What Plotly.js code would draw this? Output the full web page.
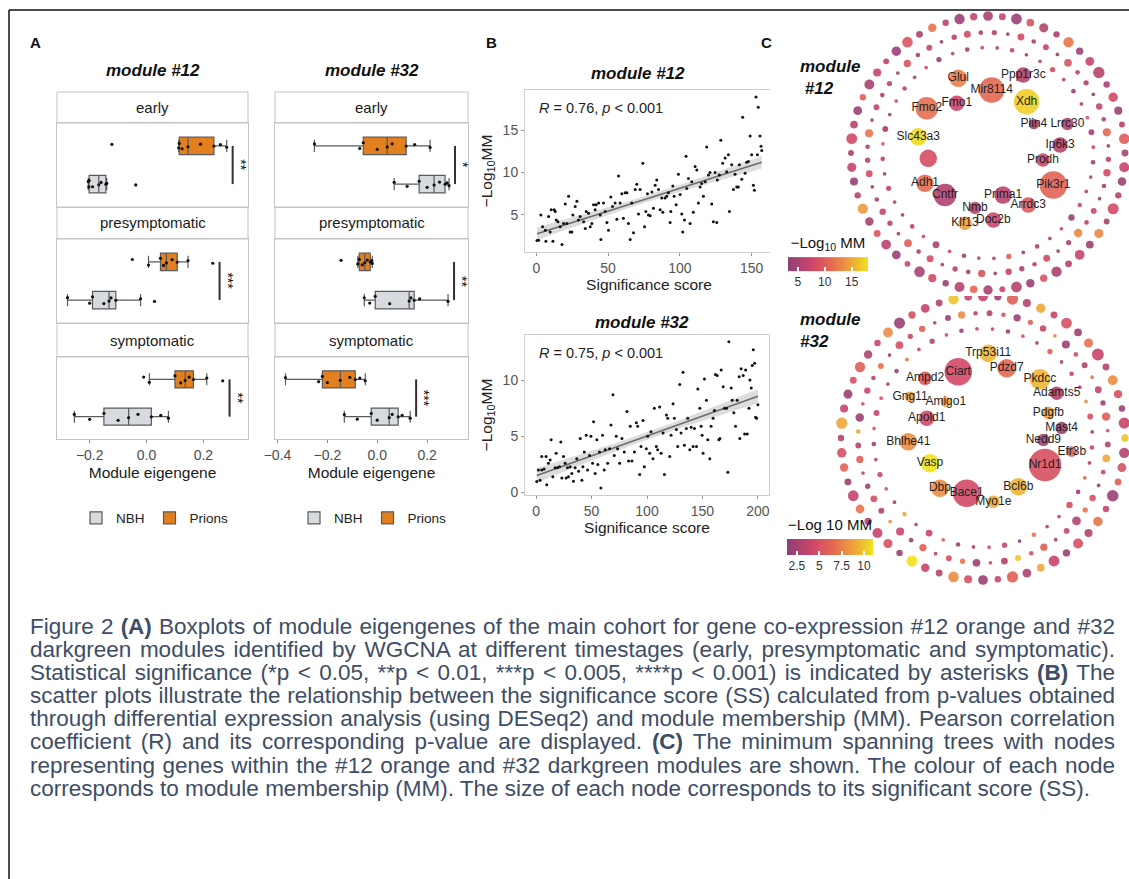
<!DOCTYPE html>
<html><head><meta charset="utf-8">
<script src="https://cdn.plot.ly/plotly-3.0.1.min.js"></script>
<style>
html,body{margin:0;padding:0;background:#fff;}
#chart{position:absolute;left:0;top:0;width:1129px;height:879px;}
#caption{position:absolute;left:30px;top:615px;width:1085px;font-family:'Liberation Sans',Arial,sans-serif;font-size:22.5px;line-height:23.1px;color:#3e4d66;}
#caption .ln{white-space:nowrap;height:23.1px;}
#caption b{color:#3e4d66;}
</style></head><body>
<div id="chart"></div>
<div id="caption"></div>
<script>
// ================= DATA =================
// Panel A: module eigengene samples
const stages = ['early','presymptomatic','symptomatic'];
const groupNames = ['NBH','Prions'];
const m12_early_NBH = [-0.205,-0.203,-0.202,-0.19,-0.168,-0.16,-0.143,-0.14,-0.038];
const m12_early_Prions = [-0.122,0.113,0.115,0.125,0.146,0.19,0.237,0.26,0.282];
const m12_presym_NBH = [-0.278,-0.2,-0.19,-0.15,-0.132,-0.125,-0.108,-0.021,0.028];
const m12_presym_Prions = [-0.05,0.007,0.049,0.06,0.07,0.09,0.108,0.146,0.233];
const m12_sym_NBH = [-0.254,-0.2,-0.15,-0.1,-0.063,-0.03,0.017,0.05,0.077];
const m12_sym_Prions = [-0.01,0.01,0.1,0.12,0.136,0.15,0.165,0.212,0.268];
const m32_early_NBH = [0.068,0.12,0.168,0.2,0.228,0.25,0.272,0.28,0.288];
const m32_early_Prions = [-0.252,-0.07,-0.056,0.0,0.04,0.06,0.116,0.15,0.212];
const m32_presym_NBH = [-0.052,-0.03,-0.008,0.05,0.128,0.135,0.148,0.17,0.284];
const m32_presym_Prions = [-0.145,-0.078,-0.072,-0.06,-0.05,-0.04,-0.028,-0.022,-0.02];
const m32_sym_NBH = [-0.132,-0.08,-0.024,0.0,0.048,0.06,0.084,0.1,0.132];
const m32_sym_Prions = [-0.368,-0.235,-0.22,-0.2,-0.148,-0.11,-0.088,-0.07,-0.048];
const sig12 = ['**','***','**'];
const sig32 = ['*','**','***'];
const sigPos12 = [0.303,0.257,0.292];
const sigPos32 = [0.312,0.308,0.156];
const ticks12 = [-0.2,0,0.2];
const ticks32 = [-0.4,-0.2,0,0.2];

// Panel B: significance score vs -log10 MM
const ss12 = [0.5,1.6,3.2,4.4,6.3,6.7,8.6,9.7,10.4,11.6,12.5,13.2,13.9,15.1,16.7,17.9,19,20.2,21.3,22.5,23.6,24.8,25.5,27.1,28.3,29.4,30.6,33,34.1,34.8,36.4,37.6,38.7,39.9,41,41.7,43.4,45,44.5,46.8,48,49.2,50.3,51.9,53.1,54.9,56.1,57.3,58.4,59.6,60.7,61.9,63.1,64.2,65.4,66.5,67.7,68.9,70,71.2,72.3,74.2,75.4,76.3,77.4,78.1,79.3,80.5,81.6,82.8,83.9,85.1,86.3,87.4,88.1,89.7,90.9,92,93.2,93.7,95.1,96,97.4,99,100.2,101.3,102,103.2,104.3,104.8,106,107.1,108.3,109.4,110.6,111.8,112.9,114.1,115.2,116.4,117.6,118.7,119.9,121,122.2,123.3,124.5,125.7,126.1,127.5,128.5,129.8,131.5,132.6,133.8,134.5,136.1,137.3,138.4,139.6,140.7,141.4,143.1,143.7,145.4,146.5,147.7,148.9,150,151.2,151.9,153,154,154.6,155.8,156.5,157];
const mm12 = [1.98,2.0,5.0,3.6,3.2,1.9,4.8,3.0,5.6,1.9,5.6,5.4,4.4,4.2,3.6,1.5,4.0,6.3,4.0,7.2,3.0,3.0,5.0,6.0,6.6,4.4,4.8,4.2,3.4,5.4,5.2,3.6,4.0,6.2,5.6,6.2,6.4,2.1,5.0,6.4,5.4,4.1,3.2,7.1,6.0,6.4,4.5,9.6,6.4,7.5,4.6,7.6,7.6,4.0,2.1,6.4,2.9,8.0,8.6,5.1,8.0,11.1,3.6,5.4,7.5,5.0,4.9,7.7,5.8,8.5,9.1,8.0,5.6,7.0,5.3,7.0,7.2,7.6,4.1,5.4,8.4,7.2,6.2,9.8,7.4,5.1,3.0,4.4,11.9,8.1,9.3,4.0,8.9,5.3,10.7,10.3,6.4,8.3,8.7,7.2,8.9,13.0,9.7,10.0,6.3,4.2,10.0,4.1,9.1,9.7,13.8,11.1,11.7,10.1,12.1,5.4,10.9,8.0,9.8,8.3,8.3,10.9,9.2,16.5,9.9,11.2,11.3,14.3,12.1,8.5,7.9,18.9,12.1,17.7,14.3,13.1,12.6];
const ss32 = [0.6,2.1,3.6,5.1,5.1,7.2,9,9.6,11.1,12.7,13.6,15.1,17.2,18.1,19.3,21.1,22.3,23.2,24.7,26.2,27.1,28.3,29.2,30.7,32.2,33.7,35.2,36.7,38.3,39.8,41.3,42.2,43.4,45.2,46.4,48.2,49.4,50.9,51.8,53.3,54.8,55.7,57.2,58.4,59.9,61.4,62.3,64.5,66.3,67.5,69.3,70.5,72.3,73.5,75.3,77.4,79.5,81.9,83.4,84.9,86.4,88.6,90.4,91.6,93.4,94.6,96.4,97.6,99.4,100.6,102.4,103.6,105.4,106.6,108.4,109.6,111.4,112.7,114.5,115.7,117.5,118.7,120.5,121.7,123.5,124.7,126.5,127.7,129.5,130.7,132.5,133.7,135.5,136.7,138.6,139.8,141.6,142.8,144.6,145.8,147.6,148.8,149.7,150.6,151.8,153.6,154.8,156.6,157.8,159.6,160.8,161.7,163.3,164.8,165.7,166.9,168.7,169.9,171.7,172.9,173.8,175.9,176.8,178.3,179.8,181.3,183.1,183.7,184.9,186.7,188,188.9,190.4,191.9,192.8,194,194.9,195.8,197,197.9,198.8,200];
const mm32 = [0.98,2.0,1.1,2.0,3.2,2.1,3.2,0.7,2.6,2.9,4.7,1.4,2.2,3.5,2.2,2.3,4.5,1.3,3.2,2.6,1.3,2.2,1.4,2.3,1.7,1.0,2.2,3.0,1.9,4.8,1.1,2.3,3.6,5.1,2.0,3.3,5.0,2.6,6.3,1.7,4.7,2.5,3.6,0.4,5.1,2.0,3.8,2.6,3.9,6.0,8.7,3.3,5.0,3.9,2.6,4.8,3.6,7.2,2.8,5.9,2.8,3.6,6.2,5.9,1.6,4.1,6.4,2.3,3.9,5.0,3.5,5.4,3.0,7.5,4.1,3.8,7.6,3.5,5.3,1.6,6.9,6.6,3.2,5.1,7.9,6.6,5.6,4.1,9.6,5.3,10.7,4.2,5.7,6.6,3.8,5.8,4.1,5.7,4.1,9.2,7.5,5.9,5.1,3.5,10.1,8.2,4.7,3.0,5.9,6.6,7.3,10.5,10.4,4.7,4.8,10.9,9.4,7.5,7.5,1.8,13.4,9.3,8.2,7.1,5.9,8.2,10.3,4.8,11.0,10.4,5.2,10.9,5.2,7.5,10.0,9.3,11.3,12.7,11.5,6.7,6.6,7.8];

// Panel C: network hubs (layout coordinates, MM colour, SS size)
const hub12Names = ['Glul','Mir8114','Ppp1r3c','Fmo1','Xdh','Fmo2','Slc43a3','Plin4','Lrrc30','Ip6k3','Prodh','','Adh1','Pik3r1','Cntfr','Nmb','Prima1','Arrdc3','Klf13','Doc2b'];
const hub12X = [-0.217,0.027,0.258,-0.228,0.282,-0.447,-0.509,0.335,0.58,0.526,0.401,-0.436,-0.46,0.477,-0.314,-0.095,0.11,0.294,-0.168,0.039];
const hub12Y = [0.545,0.46,0.569,0.363,0.374,0.326,0.119,0.212,0.212,0.058,-0.051,-0.039,-0.221,-0.234,-0.307,-0.401,-0.307,-0.380,-0.513,-0.489];
const hub12MM = [12.5,11,5.5,7.5,17,11.5,17.5,5,5.5,6,7,8.5,11.5,10.5,5.5,6.5,6,9.5,14.5,7.5];
const hub12SS = [53,119,40,40,119,91,53,17,25,40,30,53,53,140,91,25,53,40,30,40];
const hub32Names = ['Trp53i11','Ciart','Pdzd7','Pkdcc','Ampd2','Gng11','Amigo1','Adamts5','Apold1','Pdgfb','Mast4','Nedd9','Bhlhe41','Efr3b','Vasp','Nr1d1','Bcl6b','Dbp','Bace1','Myo1e'];
const hub32X = [0.037,-0.174,0.167,0.401,-0.408,-0.514,-0.262,0.519,-0.396,0.46,0.554,0.425,-0.526,0.625,-0.373,0.437,0.249,-0.303,-0.115,0.073];
const hub32Y = [0.596,0.467,0.491,0.413,0.420,0.290,0.255,0.315,0.139,0.176,0.07,-0.014,-0.026,-0.096,-0.178,-0.19,-0.343,-0.354,-0.389,-0.449];
const hub32MM = [9.5,4.5,6.5,9.5,5.5,8.5,9,3,4.5,8.5,2,2.5,8,6,11,5,9.5,8,4.5,9];
const hub32SS = [53,140,60,75,30,17,17,30,40,25,25,25,53,17,60,198,53,53,140,25];
// peripheral nodes (three rings per module)
const o12mm = [5,7,4,9,6,5,12,4,7,6,5,8,4,6,10,5,7,4,6,8,5,13,4,7,6,5,9,4,6,7,5,11,6,4,8,5,7,4,6,9,5,14,6,4,7,5,8,6,4,10,5,7,6,4,9,5,12,6,4,7];
const o12ss = [14,6,18,8,12,5,16,7,11,20,5,13,9,4,17,6,15,10,5,19,4,12,8,14,6,16,7,10,18,4,13,8,15,5,9,17,4,11,14,6,10,16,5,9,12,4,18,8,11,5,15,9,4,13,17,6,10,5,16,7];
const m12mm = [6,4,8,5,7,4,9,6,5,3.5,7,5,11,4,6,8,5,4,7,6,13,5,4,8,6,5,7,4,9,5,6,4,8,5,10,4,6,7,5,4,8,6,5,12,4,7,5,6,4,9,5,7,4,6,8,5];
const m12ss = [3,1,6,2,4,1,8,2,3,1,5,2,9,1,3,7,2,1,4,2,10,3,1,6,2,3,5,1,7,2,3,1,6,2,8,1,3,5,2,1,6,3,2,9,1,4,2,3,1,7,2,4,1,3,6,2];
const i12mm = [5,7,4,6,8,5,4,6,9,5,7,4,6,5,8,4,7,5,6,4,10,5,6,4,7,5,8,6,4,5,7,4,6,9,5,4,7,6,5,8,4,6,5,7];
const i12ss = [1,2,1,1,3,1,2,1,1,4,1,2,1,1,2,5,1,1,2,1,3,1,1,2,1,6,1,2,1,1,3,1,2,1,4,1,1,2,1,1,3,1,2,1];
const o32mm = [4,2,6,3,9,4,5,2,7,4,3,8,5,2,4,10,3,5,6,2,4,7,3,5,2,4,9,3,6,4,2,5,8,3,4,11,2,5,4,3,7,4,2,6,5,3,9,4,2,5,6,3,4,8,2,5,4,3,10,4];
const o32ss = [16,7,20,9,13,6,18,8,12,22,6,14,10,5,19,7,16,11,6,21,5,13,9,15,7,18,8,11,20,5,14,9,17,6,10,19,5,12,15,7,11,18,6,10,13,5,20,9,12,6,16,10,5,14,19,7,11,6,17,8];
const m32mm = [3,5,2,6,4,8,2,5,3,7,4,2,6,5,3,9,4,2,5,7,3,4,2,6,5,10,3,4,2,7,5,3,6,2,4,8,3,5,2,4,6,3,9,2,5,4,3,7,2,5,4,6,3,2,8,4];
const m32ss = [4,2,7,3,5,1,9,2,4,1,6,3,10,1,4,8,2,1,5,3,11,4,1,7,2,4,6,1,8,3,4,1,7,2,9,1,4,6,3,1,7,4,2,10,1,5,2,4,1,8,3,5,1,4,7,2];
const i32mm = [4,2,5,3,6,2,4,3,8,5,2,4,3,6,2,5,4,3,7,2,4,5,3,2,6,4,3,9,2,5,4,3,2,6,4,5,3,2,7,4,3,5,2,4];
const i32ss = [1,2,1,1,3,1,2,1,1,4,1,2,1,1,2,5,1,1,2,1,3,1,1,2,1,6,1,2,1,1,3,1,2,1,4,1,1,2,1,1,3,1,2,1];

const captionLines = [
 'Figure 2 <b>(A)</b> Boxplots of module eigengenes of the main cohort for gene co-expression #12 orange and #32',
 'darkgreen modules identified by WGCNA at different timestages (early, presymptomatic and symptomatic).',
 'Statistical significance (*p &lt; 0.05, **p &lt; 0.01, ***p &lt; 0.005, ****p &lt; 0.001) is indicated by asterisks <b>(B)</b> The',
 'scatter plots illustrate the relationship between the significance score (SS) calculated from p-values obtained',
 'through differential expression analysis (using DESeq2) and module membership (MM). Pearson correlation',
 'coefficient (R) and its corresponding p-value are displayed. <b>(C)</b> The minimum spanning trees with nodes',
 'representing genes within the #12 orange and #32 darkgreen modules are shown. The colour of each node',
 'corresponds to module membership (MM). The size of each node corresponds to its significant score (SS).'
];

// ================= BUILD =================
const W=1129,H=879;
const FONT='Liberation Sans, Arial, Helvetica, sans-serif';
const fx=p=>p/W, fy=p=>1-p/H;
const domX=(a,b)=>[a/W,b/W];
const domY=(t,b)=>[1-b/H,1-t/H];
const sfx=k=>k===1?'':String(k);
const traces=[], shapes=[], annotations=[];
const ann=o=>annotations.push(Object.assign({xref:'paper',yref:'paper',xanchor:'center',yanchor:'middle',showarrow:false},o));
const layout={width:W,height:H,margin:{l:0,r:0,t:0,b:0},paper_bgcolor:'#ffffff',plot_bgcolor:'#ffffff',
  font:{family:FONT,color:'#222'},showlegend:true,shapes,annotations,hovermode:'closest'};

// ---- Panel A ----
const rowsPx=[[123,207],[239,323],[357,439]];
const stripPx=[[92,123],[207,239],[323,357]];
const boxCols=[
 {mod:'#12',px:[57,248],range:[-0.315,0.357],tv:ticks12,sig:sig12,sigPos:sigPos12,legend:'legend',
  data:[[m12_early_NBH,m12_early_Prions],[m12_presym_NBH,m12_presym_Prions],[m12_sym_NBH,m12_sym_Prions]]},
 {mod:'#32',px:[275,468],range:[-0.41,0.364],tv:ticks32,sig:sig32,sigPos:sigPos32,legend:'legend2',
  data:[[m32_early_NBH,m32_early_Prions],[m32_presym_NBH,m32_presym_Prions],[m32_sym_NBH,m32_sym_Prions]]}
];
const boxFill=['#d7dbdf','#e2801f'];
boxCols.forEach((c,ci)=>{
  ann({x:fx((c.px[0]+c.px[1])/2),y:fy(70),text:'<b><i>module '+c.mod+'</i></b>',font:{size:17,color:'#111'}});
  for(let r=0;r<3;r++){
    const k=ci*3+r+1, s=sfx(k);
    layout['xaxis'+s]={domain:domX(c.px[0],c.px[1]),anchor:'y'+s,range:c.range,tickvals:c.tv,tickformat:'.1f',
      showticklabels:r===2,ticks:r===2?'outside':'',ticklen:3,tickcolor:'#888',tickfont:{size:14,color:'#4d4d4d'},
      showline:true,mirror:true,linecolor:'#c4c4c4',linewidth:1,showgrid:false,zeroline:false,fixedrange:true};
    if(r===2) layout['xaxis'+s].title={text:'Module eigengene',font:{size:15.5,color:'#1a1a1a'},standoff:5};
    layout['yaxis'+s]={domain:domY(rowsPx[r][0],rowsPx[r][1]),anchor:'x'+s,type:'category',categoryorder:'array',
      categoryarray:groupNames,range:[-0.6,1.6],showticklabels:false,ticks:'',showline:true,mirror:true,
      linecolor:'#c4c4c4',linewidth:1,showgrid:false,zeroline:false,fixedrange:true};
    shapes.push({type:'rect',xref:'paper',yref:'paper',x0:fx(c.px[0]),x1:fx(c.px[1]),y0:fy(stripPx[r][1]),y1:fy(stripPx[r][0]),
      line:{color:'#c4c4c4',width:1},fillcolor:'#ffffff',layer:'below'});
    ann({x:fx((c.px[0]+c.px[1])/2),y:fy((stripPx[r][0]+stripPx[r][1])/2),text:stages[r],font:{size:15,color:'#1a1a1a'}});
    for(let g=0;g<2;g++){
      const vals=c.data[r][g];
      traces.push({type:'box',orientation:'h',name:groupNames[g],x:vals,y:vals.map(()=>groupNames[g]),
        xaxis:'x'+s,yaxis:'y'+s,fillcolor:boxFill[g],line:{color:'#5a5a5a',width:1.2},whiskerwidth:0.7,width:0.46,
        boxpoints:'all',jitter:0.55,pointpos:0,quartilemethod:'inclusive',marker:{color:'#111',size:3.2},
        legend:c.legend,legendgroup:c.mod+groupNames[g],showlegend:r===0,hoverinfo:'x'});
    }
    shapes.push({type:'line',xref:'x'+s,yref:'y'+s,x0:c.sigPos[r],x1:c.sigPos[r],y0:0,y1:1,
      line:{color:'#3a2a33',width:2}});
    annotations.push({xref:'x'+s,yref:'y'+s,x:c.sigPos[r],y:0.5,xshift:8,xanchor:'center',yanchor:'middle',
      text:c.sig[r],textangle:90,showarrow:false,font:{size:14,color:'#111'}});
  }
});
const legendBase={xanchor:'left',yanchor:'middle',orientation:'h',font:{size:13.5,color:'#222'},itemwidth:30,
  bgcolor:'rgba(0,0,0,0)',tracegroupgap:0};
layout.legend=Object.assign({x:fx(76),y:fy(518)},legendBase);
layout.legend2=Object.assign({x:fx(294),y:fy(518)},legendBase);

// ---- Panel B ----
function fitBand(xs,ys){
  const n=xs.length, mx=xs.reduce((a,b)=>a+b,0)/n, my=ys.reduce((a,b)=>a+b,0)/n;
  let sxx=0,sxy=0; for(let i=0;i<n;i++){sxx+=(xs[i]-mx)**2;sxy+=(xs[i]-mx)*(ys[i]-my);}
  const b=sxy/sxx,a=my-b*mx; let sse=0; for(let i=0;i<n;i++){sse+=(ys[i]-a-b*xs[i])**2;}
  const s=Math.sqrt(sse/(n-2)); const lo=Math.min(...xs), hi=Math.max(...xs);
  const gx=[],gy=[],up=[],dn=[];
  for(let j=0;j<=40;j++){const x=lo+(hi-lo)*j/40; const y=a+b*x; const se=s*Math.sqrt(1/n+(x-mx)**2/sxx);
    gx.push(x);gy.push(y);up.push(y+1.97*se);dn.push(y-1.97*se);}
  return {gx,gy,up,dn};
}
const scat=[
 {k:7,x:ss12,y:mm12,px:[525,773],py:[90,252],xr:[-7.85,164.85],yr:[0.63,19.72],xt:[0,50,100,150],yt:[5,10,15],
  title:'#12',titleY:73,titleX:638,R:'0.76',Ry:108},
 {k:8,x:ss32,y:mm32,px:[525,769],py:[335,495],xr:[-10,210],yr:[-0.22,14.0],xt:[0,50,100,150,200],yt:[0,5,10],
  title:'#32',titleY:322,titleX:642,R:'0.75',Ry:353}
];
scat.forEach(p=>{
  const s=sfx(p.k);
  const common={showline:true,mirror:true,linecolor:'#cfcfcf',linewidth:1,ticks:'outside',ticklen:3,tickcolor:'#999',
    tickfont:{size:14,color:'#555'},showgrid:false,zeroline:false,fixedrange:true};
  layout['xaxis'+s]=Object.assign({domain:domX(p.px[0],p.px[1]),anchor:'y'+s,range:p.xr,tickvals:p.xt,
    title:{text:'Significance score',font:{size:15.5,color:'#222'},standoff:3}},common);
  layout['yaxis'+s]=Object.assign({domain:domY(p.py[0],p.py[1]),anchor:'x'+s,range:p.yr,tickvals:p.yt,
    title:{text:'\u2212Log<sub>10</sub>MM',font:{size:15.5,color:'#222'},standoff:6}},common);
  const f=fitBand(p.x,p.y);
  traces.push({type:'scatter',mode:'lines',x:f.gx.concat(f.gx.slice().reverse()),y:f.up.concat(f.dn.slice().reverse()),
    fill:'toself',fillcolor:'rgba(165,165,165,0.38)',line:{width:0},xaxis:'x'+s,yaxis:'y'+s,showlegend:false,hoverinfo:'skip'});
  traces.push({type:'scatter',mode:'lines',x:f.gx,y:f.gy,line:{color:'#6c6c6c',width:1.6},xaxis:'x'+s,yaxis:'y'+s,
    showlegend:false,hoverinfo:'skip'});
  traces.push({type:'scatter',mode:'markers',x:p.x,y:p.y,marker:{color:'#111',size:3},xaxis:'x'+s,yaxis:'y'+s,
    showlegend:false});
  ann({x:fx(p.titleX),y:fy(p.titleY),text:'<b><i>module '+p.title+'</i></b>',font:{size:17,color:'#111'}});
  ann({x:fx(537),y:fy(p.Ry),xanchor:'left',text:'<i>R</i> = '+p.R+', <i>p</i> &lt; 0.001',font:{size:14.5,color:'#222'}});
});

// ---- Panel C ----
const CS=[[0,'#8e3f77'],[0.3,'#cf4669'],[0.55,'#e66b50'],[0.8,'#eea93a'],[1,'#efe21d']];
const ringR=[1.0,0.88,0.77];
const ringOff=[0,3,5];
const sizeOf=v=>2.2*Math.sqrt(v)+1.5;
const nets=[
 {k:9,ca:'coloraxis',px:[770,1129],py:[10,296],cx:988,cy:153,R:137,names:hub12Names,hx:hub12X,hy:hub12Y,hm:hub12MM,hs:hub12SS,
  rings:[[o12mm,o12ss],[m12mm,m12ss],[i12mm,i12ss]],label:'<b><i>module<br>&nbsp;#12</i></b>',ly:78},
 {k:10,ca:'coloraxis2',px:[770,1129],py:[296,586],cx:983,cy:438,R:142,names:hub32Names,hx:hub32X,hy:hub32Y,hm:hub32MM,hs:hub32SS,
  rings:[[o32mm,o32ss],[m32mm,m32ss],[i32mm,i32ss]],label:'<b><i>module<br>#32</i></b>',ly:330}
];
nets.forEach(nw=>{
  const s=sfx(nw.k);
  layout['xaxis'+s]={domain:domX(nw.px[0],nw.px[1]),anchor:'y'+s,range:[(nw.px[0]-nw.cx)/nw.R,(nw.px[1]-nw.cx)/nw.R],
    visible:false,fixedrange:true};
  layout['yaxis'+s]={domain:domY(nw.py[0],nw.py[1]),anchor:'x'+s,range:[(nw.cy-nw.py[1])/nw.R,(nw.cy-nw.py[0])/nw.R],
    visible:false,fixedrange:true};
  nw.rings.forEach((rg,ri)=>{
    const n=rg[0].length, xs=[], ys=[];
    for(let i=0;i<n;i++){const t=(90-ringOff[ri]-360*i/n)*Math.PI/180; xs.push(ringR[ri]*Math.cos(t)); ys.push(ringR[ri]*Math.sin(t));}
    traces.push({type:'scatter',mode:'markers',x:xs,y:ys,xaxis:'x'+s,yaxis:'y'+s,showlegend:false,
      marker:{color:rg[0],coloraxis:nw.ca,size:rg[1].map(sizeOf),opacity:0.9,line:{width:0}},hoverinfo:'skip'});
  });
  traces.push({type:'scatter',mode:'markers+text',x:nw.hx,y:nw.hy,text:nw.names,textposition:'middle center',
    textfont:{size:12,color:'#1f1f1f'},xaxis:'x'+s,yaxis:'y'+s,showlegend:false,
    marker:{color:nw.hm,coloraxis:nw.ca,size:nw.hs.map(sizeOf),opacity:0.9,line:{width:0}}});
  ann({x:fx(798),y:fy(nw.ly),xanchor:'left',align:'left',text:nw.label,font:{size:17,color:'#111'}});
});
const cbBase={orientation:'h',xanchor:'center',yanchor:'top',lenmode:'pixels',thicknessmode:'pixels',
  xpad:0,ypad:0,outlinewidth:0,ticks:'inside',ticklen:4,tickcolor:'#ffffff',tickwidth:2,tickfont:{size:12,color:'#333'}};
layout.coloraxis={colorscale:CS,cmin:3.2,cmax:18,colorbar:Object.assign({x:fx(828),y:fy(238),len:80,thickness:14,tickvals:[5,10,15],
  title:{text:'\u2212Log<sub>10</sub> MM',side:'top',font:{size:15,color:'#111'}}},cbBase)};
layout.coloraxis2={colorscale:CS,cmin:1.4,cmax:11,colorbar:Object.assign({x:fx(830),y:fy(522),len:86,thickness:16,tickvals:[2.5,5,7.5,10],
  title:{text:'\u2212Log 10 MM',side:'top',font:{size:15,color:'#111'}}},cbBase)};

// ---- panel letters & frame ----
[['A',35],['B',491],['C',766]].forEach(l=>ann({x:fx(l[1]),y:fy(42),text:'<b>'+l[0]+'</b>',font:{size:15,color:'#111'}}));
shapes.push({type:'line',xref:'paper',yref:'paper',x0:fx(9),x1:1,y0:fy(10),y1:fy(10),line:{color:'#111',width:1.5}});
shapes.push({type:'line',xref:'paper',yref:'paper',x0:fx(9),x1:fx(9),y0:fy(10),y1:0,line:{color:'#111',width:1.5}});

Plotly.newPlot('chart',traces,layout,{displayModeBar:false,responsive:false});

// ---- caption (justified lines) ----
const cap=document.getElementById('caption');
captionLines.forEach((t,i)=>{
  const d=document.createElement('div'); d.className='ln';
  const sp=document.createElement('span'); sp.innerHTML=t; d.appendChild(sp); cap.appendChild(d);
  if(i<captionLines.length-1){
    const w=sp.getBoundingClientRect().width; const n=(sp.textContent.match(/ /g)||[]).length;
    const diff=1085-w;
    if(diff>=0) sp.style.wordSpacing=(diff/n)+'px';
    else sp.style.letterSpacing=(diff/sp.textContent.length)+'px';
  }
});
</script></body></html>
